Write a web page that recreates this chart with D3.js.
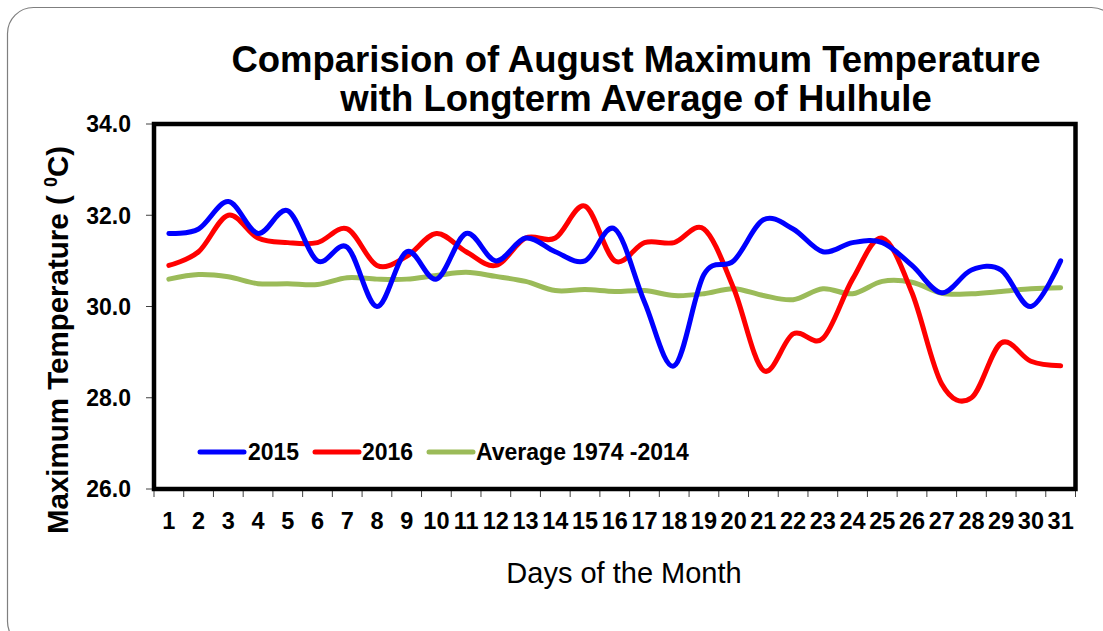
<!DOCTYPE html>
<html>
<head>
<meta charset="utf-8">
<script src="https://cdn.jsdelivr.net/npm/d3@7"></script>
<style>
  body { margin: 0; background: #fff; }
  svg { display: block; font-family: "Liberation Sans", Arial, sans-serif; }
</style>
</head>
<body>
<svg id="chart" width="1103" height="631"></svg>
<script>
// August max temperature - Hulhule

const days = [1, 2, 3, 4, 5, 6, 7, 8, 9, 10, 11, 12, 13, 14, 15, 16,
  17, 18, 19, 20, 21, 22, 23, 24, 25, 26, 27, 28, 29, 30, 31];

const temp2015 = [31.6, 31.7, 32.3, 31.6, 32.1, 31.0, 31.3, 30.0, 31.2, 30.6,
  31.6, 31.0, 31.5, 31.2, 31.0, 31.7, 30.1, 28.7, 30.7, 31.0,
  31.9, 31.7, 31.2, 31.4, 31.4, 30.9, 30.3, 30.8, 30.8, 30.0, 31.0];

const temp2016 = [30.9, 31.2, 32.0, 31.5, 31.4, 31.4, 31.7, 30.9, 31.1, 31.6,
  31.2, 30.9, 31.5, 31.5, 32.2, 31.0, 31.4, 31.4, 31.7, 30.4,
  28.6, 29.4, 29.3, 30.6, 31.5, 30.3, 28.3, 28.0, 29.2, 28.8, 28.7];

const tempAverage = [30.6, 30.7, 30.65, 30.5, 30.5, 30.48, 30.63, 30.6, 30.6, 30.68,
  30.75, 30.66, 30.55, 30.35, 30.37, 30.33, 30.35, 30.24, 30.28, 30.39,
  30.24, 30.15, 30.39, 30.28, 30.55, 30.53, 30.29, 30.28, 30.33, 30.39, 30.41];

const yTicks = [26, 28, 30, 32, 34];

const seriesNames = ['2015', '2016', 'Average 1974 -2014'];
const seriesColors = ['#0000ff', '#ff0000', '#9bbb59'];

class TemperatureChart {
  constructor(selector) {
    this.svg = d3.select(selector);
    this.width = 1103;
    this.height = 631;
    this.margin = { top: 124, right: 27.5, bottom: 142, left: 154 };
  }

  render() {
    const svg = this.svg;
    const m = this.margin;

    // outer rounded frame
    svg.append('rect')
      .attr('x', 7.5)
      .attr('y', 7.5)
      .attr('width', 1110)
      .attr('height', 640)
      .attr('rx', 26)
      .attr('fill', '#fff')
      .attr('stroke', '#7f7f7f')
      .attr('stroke-width', 1.2);

    const xScale = d3.scaleBand()
      .domain(days)
      .range([m.left, this.width - m.right]);

    const yScale = d3.scaleLinear()
      .domain([26, 34])
      .range([this.height - m.bottom, m.top]);

    this.drawTitle();
    this.drawAxes(xScale, yScale);

    const series = [temp2015, temp2016, tempAverage];
    const line = d3.line()
      .x((d, i) => xScale(days[i]) + xScale.bandwidth() / 2)
      .y(d => yScale(d))
      .curve(d3.curveCardinal.tension(0));

    // average first so it sits at the back
    [2, 1, 0].forEach(i => {
      svg.append('path')
        .datum(series[i])
        .attr('fill', 'none')
        .attr('stroke', seriesColors[i])
        .attr('stroke-width', 5)
        .attr('stroke-linecap', 'round')
        .attr('stroke-linejoin', 'round')
        .attr('d', line);
    });

    // plot frame on top
    svg.append('rect')
      .attr('x', m.left)
      .attr('y', m.top)
      .attr('width', this.width - m.left - m.right)
      .attr('height', this.height - m.top - m.bottom)
      .attr('fill', 'none')
      .attr('stroke', '#000')
      .attr('stroke-width', 4.5);

    this.drawLegend();
  }

  drawTitle() {
    const title = this.svg.append('text')
      .attr('text-anchor', 'middle')
      .attr('font-size', '36.5px')
      .attr('font-weight', 'bold')
      .attr('fill', '#000');
    title.append('tspan').attr('x', 636).attr('y', 72)
      .text('Comparision of August Maximum Temperature');
    title.append('tspan').attr('x', 636).attr('y', 111)
      .text('with Longterm Average of Hulhule');
  }

  drawAxes(xScale, yScale) {
    const svg = this.svg;
    const m = this.margin;
    const bottom = this.height - m.bottom;

    // y axis ticks + labels
    const yAxis = svg.append('g');
    yTicks.forEach(t => {
      yAxis.append('line')
        .attr('x1', m.left - 8).attr('x2', m.left)
        .attr('y1', yScale(t)).attr('y2', yScale(t))
        .attr('stroke', '#404040').attr('stroke-width', 1);
      yAxis.append('text')
        .attr('x', 131)
        .attr('y', yScale(t))
        .attr('dy', '0.36em')
        .attr('text-anchor', 'end')
        .attr('font-size', '23px')
        .attr('font-weight', 'bold')
        .text(t.toFixed(1));
    });

    // x axis ticks between categories
    const xAxis = svg.append('g');
    const edges = days.map(d => xScale(d)).concat([this.width - m.right]);
    edges.forEach(x => {
      xAxis.append('line')
        .attr('x1', x).attr('x2', x)
        .attr('y1', bottom).attr('y2', bottom + 8)
        .attr('stroke', '#404040').attr('stroke-width', 1);
    });
    days.forEach(d => {
      xAxis.append('text')
        .attr('x', xScale(d) + xScale.bandwidth() / 2)
        .attr('y', 529)
        .attr('text-anchor', 'middle')
        .attr('font-size', '23.5px')
        .attr('font-weight', 'bold')
        .text(d);
    });

    // axis titles
    svg.append('text')
      .attr('x', 624)
      .attr('y', 583)
      .attr('text-anchor', 'middle')
      .attr('font-size', '29px')
      .text('Days of the Month');

    const yTitle = svg.append('text')
      .attr('transform', 'translate(68, 340) rotate(-90)')
      .attr('text-anchor', 'middle')
      .attr('font-size', '29.5px')
      .attr('font-weight', 'bold');
    yTitle.append('tspan').text('Maximum Temperature ( ');
    yTitle.append('tspan').attr('font-size', '18px').attr('dy', '-11').text('0');
    yTitle.append('tspan').attr('dy', '11').text('C)');
  }

  drawLegend() {
    const items = [
      { x: 200, tx: 248 },
      { x: 315, tx: 362 },
      { x: 429, tx: 476 }
    ];
    const legend = this.svg.append('g').attr('class', 'legend');
    items.forEach((item, i) => {
      legend.append('line')
        .attr('x1', item.x).attr('x2', item.x + 44)
        .attr('y1', 452).attr('y2', 452)
        .attr('stroke', seriesColors[i])
        .attr('stroke-width', 5)
        .attr('stroke-linecap', 'round');
      legend.append('text')
        .attr('x', item.tx)
        .attr('y', 460)
        .attr('font-size', '23px')
        .attr('font-weight', 'bold')
        .text(seriesNames[i]);
    });
  }
}

new TemperatureChart('#chart').render();
</script>
</body>
</html>
